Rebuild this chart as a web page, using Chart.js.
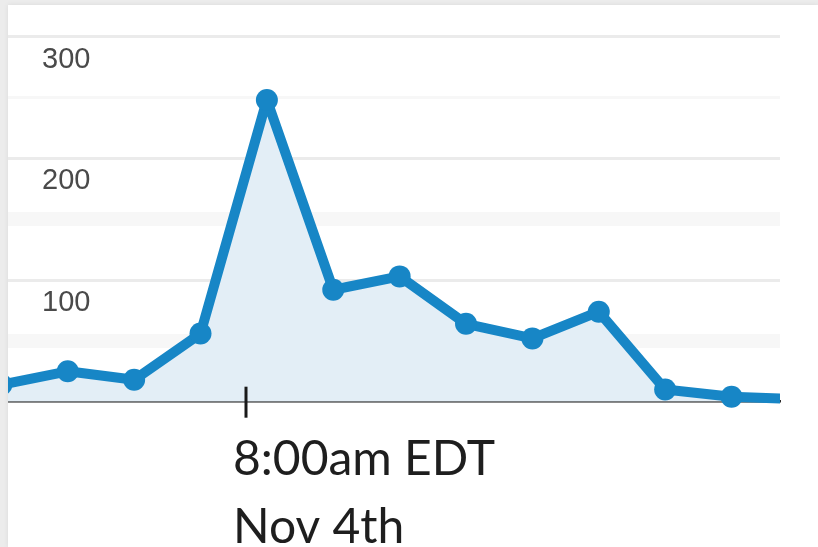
<!DOCTYPE html>
<html>
<head>
<meta charset="utf-8">
<script src="https://cdn.jsdelivr.net/npm/chart.js@4"></script>
<style>
  html, body { margin: 0; padding: 0; }
  body { width: 818px; height: 547px; background: #ececec; overflow: hidden; position: relative; }
  .panel {
    position: absolute; left: 8px; top: 5px; width: 810px; height: 542px;
    background: #fff; box-shadow: 0 0 5px rgba(0,0,0,0.08);
  }
  canvas { display: block; }
</style>
</head>
<body>
<div class="panel"><canvas id="chart-traffic" width="810" height="542"></canvas></div>
<script>
// ─── Data ────────────────────────────────────────────────
const slots    = [0, 1, 2, 3, 4, 5, 6, 7, 8, 9, 10, 11, 12];
const visits   = [14, 25, 18, 56, 248, 92, 103, 64, 52, 74, 10, 4, 2];
const tickAt   = 3.685;
const tickText = ['8:00am EDT', 'Nov 4th'];
const yMax     = 300;

const BLUE = '#1786c6';

function noPad(s) { s.paddingLeft = 0; s.paddingRight = 0; s.paddingTop = 0; s.paddingBottom = 0; }

// tick mark crossing the baseline
const tickMarks = {
  id: 'tickMarks',
  afterDraw(chart) {
    const s = chart.scales.x, a = chart.chartArea, ctx = chart.ctx;
    ctx.save();
    ctx.strokeStyle = '#1a1a1a';
    ctx.lineWidth = 3;
    s.ticks.forEach(t => {
      const px = Math.round(s.getPixelForValue(t.value));
      ctx.beginPath();
      ctx.moveTo(px, a.bottom - 15);
      ctx.lineTo(px, a.bottom + 16);
      ctx.stroke();
    });
    ctx.restore();
  }
};

new Chart(document.getElementById('chart-traffic'), {
  type: 'line',
  data: {
    datasets: [{
      data: slots.map((x, i) => ({ x, y: visits[i] })),
      borderColor: BLUE,
      backgroundColor: '#e3eef6',
      fill: 'origin',
      tension: 0,
      borderWidth: 10,
      borderJoinStyle: 'round',
      pointRadius: 11,
      pointBackgroundColor: BLUE,
      pointBorderWidth: 0,
      clip: { left: 0, right: 0, top: false, bottom: false },
    }],
  },
  options: {
    responsive: false,
    animation: false,
    layout: { autoPadding: false, padding: { top: 31.7, right: 38, left: 0, bottom: 0 } },
    plugins: { legend: { display: false }, tooltip: { enabled: false } },
    scales: {
      x: {
        type: 'linear',
        min: 0.1,
        max: 11.73,
        afterBuildTicks: s => { s.ticks = [{ value: tickAt }]; },
        afterFit: s => { s.height = 145.3; noPad(s); },
        grid: { display: false, drawTicks: false },
        border: { display: true, color: '#2a2a2a', width: 2.5 },
        ticks: {
          callback: () => tickText,
          align: 'start',
          labelOffset: -13,
          padding: 24,
          maxRotation: 0,
          autoSkip: false,
          color: '#1e1e1e',
          font: { family: 'Lato', size: 48, lineHeight: 1.42 },
        },
      },
      y: {
        min: 0,
        max: yMax,
        afterFit: s => { s.width = 0; noPad(s); },
        border: { display: false },
        grid: {
          drawTicks: false,
          color: c => (c.tick.value % 100 === 50 ? '#f7f7f7' : '#ebebeb'),
          lineWidth: c => (c.tick.value % 100 === 50 && c.tick.value < 200 ? 14 : 3),
        },
        ticks: {
          stepSize: 50,
          mirror: true,
          padding: 34,
          labelOffset: 23,
          color: '#4a4a4a',
          font: { family: 'Liberation Sans', size: 29 },
          callback: v => (v > 0 && v % 100 === 0 ? v : ''),
        },
      },
    },
  },
  plugins: [tickMarks],
});
</script>
</body>
</html>
